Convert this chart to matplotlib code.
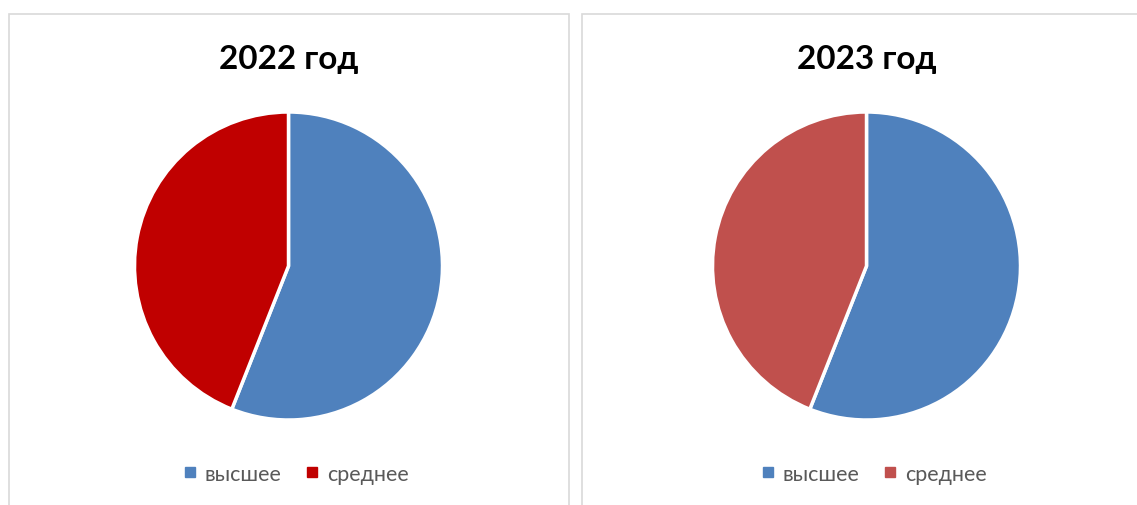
import matplotlib
matplotlib.use("Agg")
import matplotlib.pyplot as plt
from matplotlib.patches import Rectangle
from matplotlib.lines import Line2D

plt.rcParams['font.family'] = ['Lato', 'DejaVu Sans']

titles = ["2022 год", "2023 год"]
categories = ["высшее", "среднее"]
values_2022 = [56, 44]
values_2023 = [56, 44]
colors_2022 = ["#4F81BD", "#C00000"]
colors_2023 = ["#4F81BD", "#C0504D"]

W, H = 1137, 506
fig = plt.figure(figsize=(W / 100, H / 100), dpi=100)
fig.patch.set_facecolor("white")

# panel borders (pixel coords from top-left)
def px_rect(x0, y0, x1, y1):
    return Rectangle((x0 / W, 1 - y1 / H), (x1 - x0) / W, (y1 - y0) / H,
                     transform=fig.transFigure, fill=False,
                     edgecolor="#D9D9D9", linewidth=1.2)

fig.patches.append(px_rect(8.5, 14.5, 569, 520))
fig.patches.append(px_rect(582, 14.5, 1150, 520))

panels = [
    (288.5, 267, values_2022, colors_2022, titles[0], 295),
    (866.5, 267, values_2023, colors_2023, titles[1], 873),
]
r = 154
for cx, cy, vals, cols, title, lx in panels:
    ax = fig.add_axes([(cx - r) / W, (H - cy - r) / H, 2 * r / W, 2 * r / H])
    ax.pie(vals, colors=cols, startangle=90, counterclock=False, radius=1,
           wedgeprops=dict(edgecolor="white", linewidth=2.5))
    ax.set_xlim(-1.0, 1.0)
    ax.set_ylim(-1.0, 1.0)
    ax.set_aspect("auto")
    ax.axis("off")
    fig.text(cx / W, 1 - 60 / H, title, ha="center", va="center",
             fontsize=24, fontweight="bold", color="black")
    handles = [Line2D([0], [0], marker="s", linestyle="none", markersize=7,
                      markerfacecolor=c, markeredgecolor=c) for c in cols]
    fig.legend(handles, categories, loc="center", ncol=2, frameon=False,
               bbox_to_anchor=(lx / W, 1 - 475 / H), fontsize=15.5,
               labelcolor="#595959", handletextpad=0.3, columnspacing=1.0,
               handlelength=0.8)

fig.savefig("out.png", dpi=100, facecolor="white")
